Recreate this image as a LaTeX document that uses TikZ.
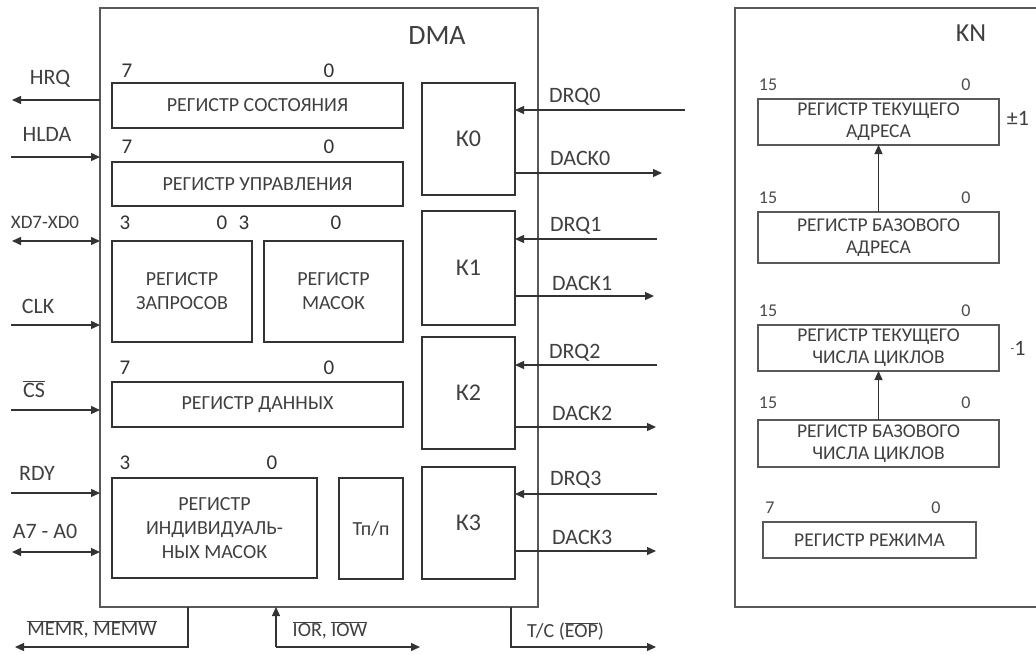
\documentclass[tikz,border=0pt]{standalone}
\usepackage{fontspec}
\setmainfont{Carlito}
\usetikzlibrary{arrows.meta}
\newcommand\ovl[1]{$\overline{\mbox{#1}}$}
\begin{document}
\begin{tikzpicture}[x=1pt,y=-1pt,
  txt/.style={text=black!75},
  reg/.style={draw=black!80,line width=1.4pt,inner sep=0pt,outer sep=0pt,anchor=north west,align=center,text=black!75,font=\fontsize{20}{24}\selectfont},
  kreg/.style={reg,font=\fontsize{19.5}{22}\selectfont,line width=1.6pt,draw=black!65},
  outer/.style={draw=black!65,line width=1.6pt,inner sep=0pt,outer sep=0pt,anchor=north west},
  num/.style={text=black!80,font=\fontsize{21}{22}\selectfont,inner sep=0pt},
  knum/.style={text=black!70,font=\fontsize{18}{19}\selectfont,inner sep=0pt},
  sig/.style={text=black!75,font=\fontsize{22}{24}\selectfont,inner sep=0pt},
  rsig/.style={sig,anchor=west},
  wire/.style={draw=black!80,line width=1.3pt},
  arr/.style={wire,-{Triangle[length=9pt,width=8pt]}},
  darr/.style={wire,{Triangle[length=9pt,width=8pt]}-{Triangle[length=9pt,width=8pt]}}
]
\useasboundingbox[fill=white] (0,0) rectangle (1036,654);

% ---- DMA ----
\node[outer,minimum width=438pt,minimum height=599pt] (dma) at (100,8) {};
\node[txt,font=\fontsize{28}{30}\selectfont] (dmat) at (437,36) {DMA};

\node[reg,minimum width=291pt,minimum height=45pt] (rs) at (112,83) {РЕГИСТР СОСТОЯНИЯ};
\node[reg,minimum width=291pt,minimum height=44pt] (ru) at (112,162) {РЕГИСТР УПРАВЛЕНИЯ};
\node[reg,minimum width=140pt,minimum height=101pt] (rz) at (112,241) {РЕГИСТР\\ЗАПРОСОВ};
\node[reg,minimum width=139pt,minimum height=101pt] (rm) at (264,241) {РЕГИСТР\\МАСОК};
\node[reg,minimum width=291pt,minimum height=45pt] (rd) at (112,382) {РЕГИСТР ДАННЫХ};
\node[reg,minimum width=205pt,minimum height=100pt] (ri) at (112,478) {РЕГИСТР\\ИНДИВИДУАЛЬ-\\НЫХ МАСОК};
\node[reg,minimum width=64pt,minimum height=101pt] (tp) at (339,478) {Тп/п};

\node[reg,minimum width=93pt,minimum height=112pt,font=\fontsize{24}{26}\selectfont] (k0) at (422,83) {К0};
\node[reg,minimum width=93pt,minimum height=114pt,font=\fontsize{24}{26}\selectfont] (k1) at (422,211) {К1};
\node[reg,minimum width=93pt,minimum height=112pt,font=\fontsize{24}{26}\selectfont] (k2) at (422,337) {К2};
\node[reg,minimum width=93pt,minimum height=112pt,font=\fontsize{24}{26}\selectfont] (k3) at (422,467) {К3};

% bit numbers
\node[num] (n1) at (127,71) {7};  \node[num] (n2) at (329,71) {0};
\node[num] (n3) at (127,147) {7}; \node[num] (n4) at (329,147) {0};
\node[num] (n5) at (125,223) {3}; \node[num] (n6) at (222,223) {0};
\node[num] (n7) at (244,223) {3}; \node[num] (n8) at (336,223) {0};
\node[num] (n9) at (125,368) {7}; \node[num] (n10) at (329,368) {0};
\node[num] (n11) at (125,463) {3}; \node[num] (n12) at (272,463) {0};

% left signals
\coordinate (hrq) at (12,100);
\coordinate (hlda) at (11,157);
\coordinate (xd) at (12,241);
\coordinate (clk) at (11,325);
\coordinate (cs) at (11,410);
\coordinate (rdy) at (11,493);
\coordinate (adr) at (12,552);
\draw[arr] (hrq -| dma.west) -- (hrq);
\draw[arr] (hlda) -- (hlda -| dma.west);
\draw[darr] (xd) -- (xd -| dma.west);
\draw[arr] (clk) -- (clk -| dma.west);
\draw[arr] (cs) -- (cs -| dma.west);
\draw[arr] (rdy) -- (rdy -| dma.west);
\draw[darr] (adr) -- (adr -| dma.west);
\node[sig] (lhrq) at (50,79) {HRQ};
\node[sig] (lhlda) at (47,134) {HLDA};
\node[sig,font=\fontsize{19}{20}\selectfont] (lxd) at (45,222) {XD7-XD0};
\node[sig] (lclk) at (38,306) {CLK};
\node[sig] (lcs) at (34,389) {\ovl{CS}};
\node[sig] (lrdy) at (37,473) {RDY};
\node[sig] (ladr) at (45,531) {A7 - A0};

% right signals
\coordinate (drq0) at (685,110);
\coordinate (dack0) at (662,173);
\coordinate (drq1) at (657,239);
\coordinate (dack1) at (654,296);
\coordinate (drq2) at (657,365);
\coordinate (dack2) at (656,427);
\coordinate (drq3) at (657,494);
\coordinate (dack3) at (656,551);
\draw[arr] (drq0) -- (drq0 -| k0.east);
\draw[arr] (dack0 -| k0.east) -- (dack0);
\draw[arr] (drq1) -- (drq1 -| k1.east);
\draw[arr] (dack1 -| k1.east) -- (dack1);
\draw[arr] (drq2) -- (drq2 -| k2.east);
\draw[arr] (dack2 -| k2.east) -- (dack2);
\draw[arr] (drq3) -- (drq3 -| k3.east);
\draw[arr] (dack3 -| k3.east) -- (dack3);
\node[rsig] (ldrq0) at (549,97) {DRQ0};
\node[rsig] (ldack0) at (550,158) {DACK0};
\node[rsig] (ldrq1) at (550,226) {DRQ1};
\node[rsig] (ldack1) at (552,283) {DACK1};
\node[rsig] (ldrq2) at (549,353) {DRQ2};
\node[rsig] (ldack2) at (552,413) {DACK2};
\node[rsig] (ldrq3) at (550,480) {DRQ3};
\node[rsig] (ldack3) at (552,537) {DACK3};

% bottom signals
\coordinate (memv) at (188,647);
\coordinate (meme) at (15,647);
\coordinate (iov) at (276,647);
\coordinate (ioe) at (420,647);
\coordinate (tcv) at (511,647);
\coordinate (tce) at (656,647);
\draw[arr] (memv |- dma.south) -- (memv) -- (meme);
\draw[arr] (iov) -- (iov |- dma.south);
\draw[arr] (iov) -- (ioe);
\draw[arr] (tcv |- dma.south) -- (tcv) -- (tce);
\node[sig,font=\fontsize{20.5}{22}\selectfont] (lmem) at (92,629) {\ovl{MEMR}, \ovl{MEMW}};
\node[sig,font=\fontsize{20}{22}\selectfont] (lio) at (330,630) {\ovl{IOR}, \ovl{IOW}};
\node[sig,font=\fontsize{20}{22}\selectfont,anchor=west] (ltc) at (527,631) {T/C (\ovl{EOP})};

% ---- KN ----
\node[outer,minimum width=320pt,minimum height=599pt] (kn) at (735,8) {};
\node[txt,font=\fontsize{26}{28}\selectfont] (knt) at (971,33) {KN};

\node[kreg,minimum width=241pt,minimum height=46pt] (kta) at (758,99) {РЕГИСТР ТЕКУЩЕГО\\АДРЕСА};
\node[kreg,minimum width=241pt,minimum height=51pt] (kba) at (758,212) {РЕГИСТР БАЗОВОГО\\АДРЕСА};
\node[kreg,minimum width=241pt,minimum height=46pt] (ktc) at (758,325) {РЕГИСТР ТЕКУЩЕГО\\ЧИСЛА ЦИКЛОВ};
\node[kreg,minimum width=241pt,minimum height=47pt] (kbc) at (758,420) {РЕГИСТР БАЗОВОГО\\ЧИСЛА ЦИКЛОВ};
\node[kreg,minimum width=213pt,minimum height=36pt] (krr) at (763,522) {РЕГИСТР РЕЖИМА};

\draw[arr] (kba.north) -- (kta.south);
\draw[arr] (kbc.north) -- (ktc.south);

\node[knum] (m1) at (768,85) {15};  \node[knum] (m2) at (966,85) {0};
\node[knum] (m3) at (768,198) {15}; \node[knum] (m4) at (966,198) {0};
\node[knum] (m5) at (768,311) {15}; \node[knum] (m6) at (966,311) {0};
\node[knum] (m7) at (768,403) {15}; \node[knum] (m8) at (966,403) {0};
\node[knum] (m9) at (770,508) {7};  \node[knum] (m10) at (936,508) {0};
\node[sig] (pm1) at (1018,118) {±1};
\node[sig] (mm1) at (1018,348) {\raisebox{3pt}{\fontsize{12}{12}\selectfont -}1};
\end{tikzpicture}
\end{document}
